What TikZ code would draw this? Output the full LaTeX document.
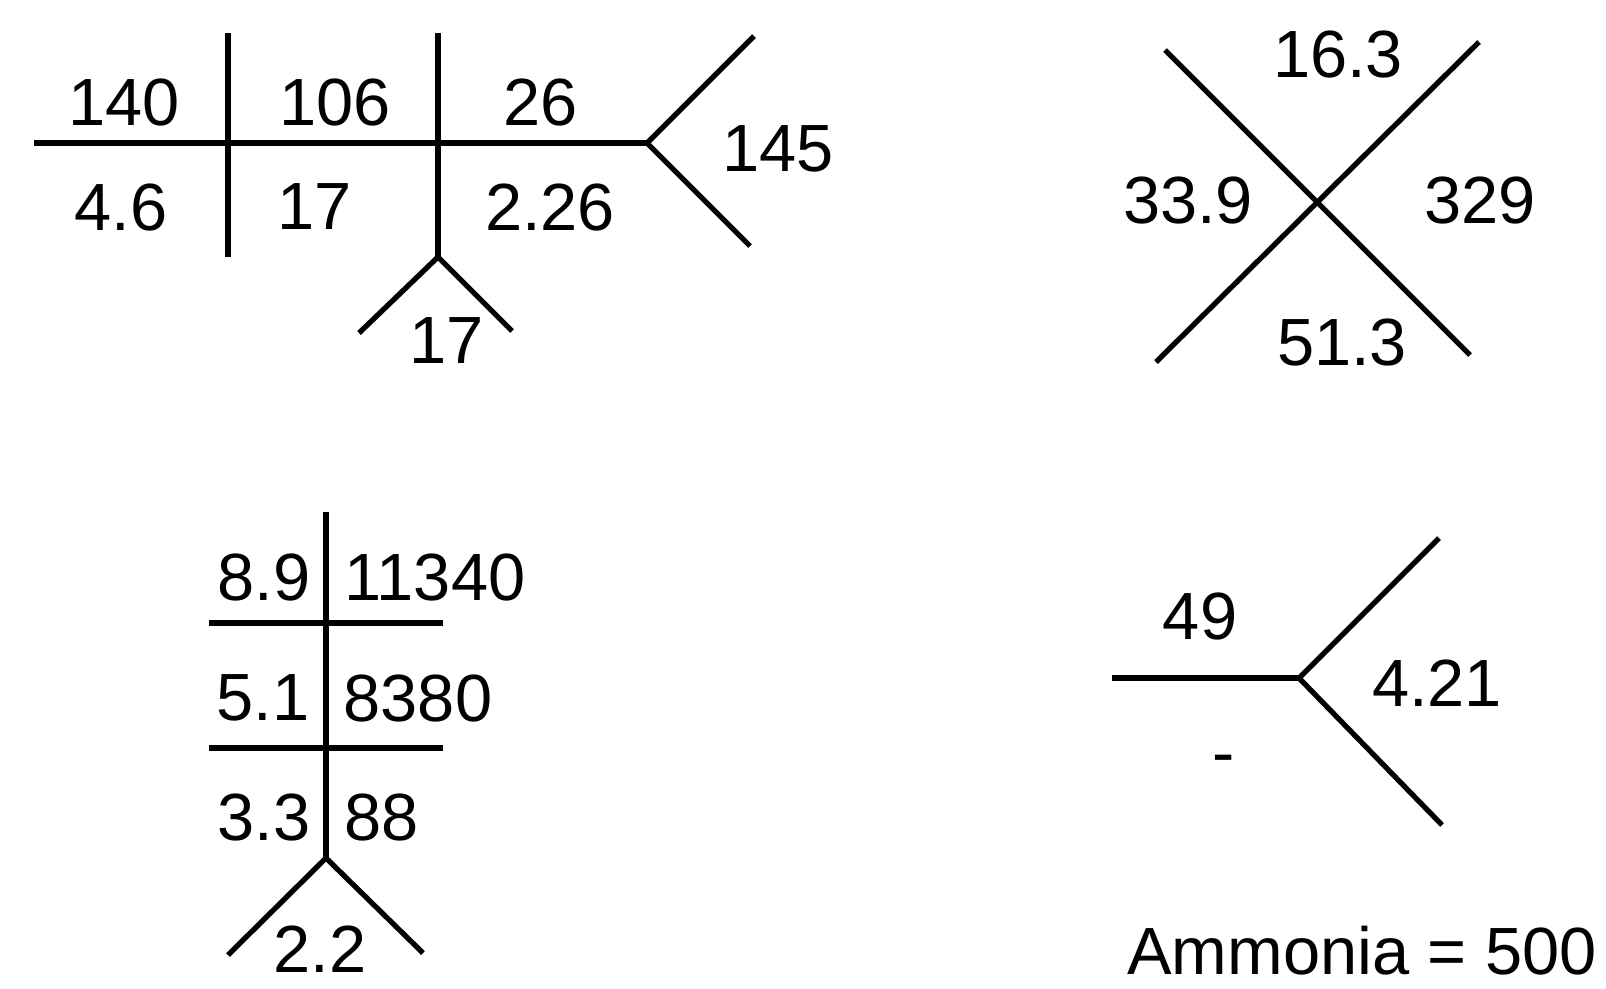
\documentclass[tikz,border=0pt]{standalone}
\usepackage{fontspec}
\setmainfont{Liberation Sans}

\begin{document}
\begin{tikzpicture}[x=0.1mm,y=-0.1mm,line width=1.5pt,
  val/.style={font=\fontsize{19}{23}\selectfont,inner sep=0pt}]
  \useasboundingbox (0,0) rectangle (1606,988);

  \coordinate (cL) at (34,143);
  \coordinate (cA) at (228,143);
  \coordinate (cB) at (438,143);
  \coordinate (cR) at (647,143);
  \coordinate (cAt) at (228,33);
  \coordinate (cAb) at (228,257);
  \coordinate (cBt) at (438,33);
  \coordinate (cBb) at (438,257);
  \coordinate (cBl) at (359,333);
  \coordinate (cBr) at (512,331);
  \coordinate (cRu) at (754,36);
  \coordinate (cRd) at (750,246);
  \draw (cL) -- (cR);
  \draw (cAt) -- (cAb);
  \draw (cBt) -- (cBb);
  \draw (cBl) -- (cBb) -- (cBr);
  \draw (cRu) -- (cR) -- (cRd);
  \node[val] (c140) at (124,102) {140};
  \node[val] (c106) at (335,102) {106};
  \node[val] (c26) at (541,102) {26};
  \node[val] (c46) at (121,207) {4.6};
  \node[val] (c17) at (315,207) {17};
  \node[val] (c226) at (550,207) {2.26};
  \node[val] (c145) at (778,149) {145};
  \node[val] (c17b) at (447,341) {17};

  \coordinate (xA1) at (1165,50);
  \coordinate (xA2) at (1470,355);
  \coordinate (xB1) at (1479,42);
  \coordinate (xB2) at (1156,362);
  \draw (xA1) -- (xA2);
  \draw (xB1) -- (xB2);
  \node[val] (x163) at (1338,54) {16.3};
  \node[val] (x339) at (1188,200) {33.9};
  \node[val] (x329) at (1480,200) {329};
  \node[val] (x513) at (1342,342) {51.3};

  \coordinate (sT) at (326,512);
  \coordinate (sF) at (326,858);
  \coordinate (sH1l) at (209,623);
  \coordinate (sH1r) at (443,623);
  \coordinate (sH2l) at (209,748);
  \coordinate (sH2r) at (443,748);
  \coordinate (sFl) at (228,955);
  \coordinate (sFr) at (423,953);
  \draw (sT) -- (sF);
  \draw (sH1l) -- (sH1r);
  \draw (sH2l) -- (sH2r);
  \draw (sFl) -- (sF) -- (sFr);
  \node[val] (s89) at (264,577) {8.9};
  \node[val] (s11340) at (435,577) {11340};
  \node[val] (s51) at (263,698) {5.1};
  \node[val] (s8380) at (418,698) {8380};
  \node[val] (s33) at (264,817) {3.3};
  \node[val] (s88) at (382,817) {88};
  \node[val] (s22) at (320,949) {2.2};

  \coordinate (yL) at (1112,678);
  \coordinate (yC) at (1299,678);
  \coordinate (yU) at (1439,538);
  \coordinate (yD) at (1442,825);
  \draw (yL) -- (yC);
  \draw (yU) -- (yC) -- (yD);
  \node[val] (y49) at (1200,616) {49};
  \node[val] (y421) at (1437,683) {4.21};
  \node[val] (ydash) at (1224,765) {-};
  \node[val] (yamm) at (1362,951) {Ammonia = 500};
\end{tikzpicture}
\end{document}
